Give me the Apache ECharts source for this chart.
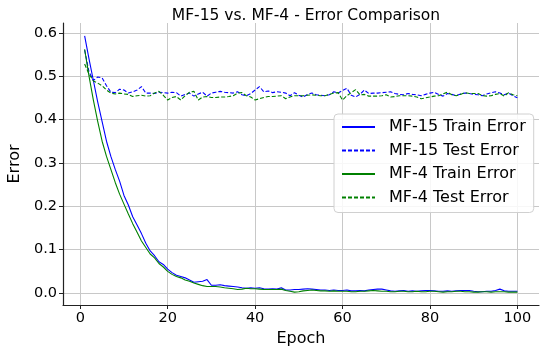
<!DOCTYPE html>
<html><head><meta charset="utf-8">
<script src="https://cdn.jsdelivr.net/npm/echarts@6/dist/echarts.min.js"></script>
<style>html,body{margin:0;padding:0;background:#fff}#c{width:547px;height:348px}</style>
</head><body><div id="c"></div>
<script>
const epochs = Array.from({length:100},(_,i)=>i+1);
const xTicks = [0,20,40,60,80,100];
const yTicks = [0,0.1,0.2,0.3,0.4,0.5,0.6];
const trainMF15 = [0.593,0.54,0.49,0.44,0.395,0.35,0.315,0.285,0.258,0.225,
0.203,0.176,0.157,0.137,0.115,0.097,0.086,0.072,0.066,0.055,
0.047,0.041,0.038,0.035,0.03,0.025,0.026,0.027,0.031,0.018,
0.018,0.019,0.017,0.016,0.015,0.014,0.012,0.011,0.012,0.011,
0.012,0.010,0.009,0.010,0.009,0.012,0.007,0.007,0.008,0.008,
0.009,0.010,0.009,0.008,0.007,0.007,0.006,0.007,0.006,0.006,
0.007,0.005,0.005,0.006,0.005,0.007,0.008,0.009,0.009,0.007,
0.005,0.004,0.005,0.006,0.004,0.005,0.004,0.005,0.006,0.006,
0.005,0.004,0.004,0.005,0.004,0.005,0.006,0.006,0.006,0.004,
0.003,0.003,0.004,0.004,0.006,0.009,0.005,0.004,0.004,0.004];
const testMF15 = [0.56,0.51,0.49,0.498,0.496,0.478,0.463,0.462,0.47,0.468,
0.461,0.464,0.468,0.476,0.461,0.461,0.46,0.463,0.462,0.461,
0.463,0.462,0.454,0.458,0.461,0.454,0.459,0.463,0.454,0.461,
0.463,0.465,0.463,0.462,0.461,0.464,0.457,0.455,0.46,0.468,
0.476,0.464,0.466,0.462,0.464,0.463,0.461,0.455,0.462,0.456,
0.452,0.458,0.461,0.457,0.456,0.455,0.457,0.464,0.461,0.467,
0.472,0.456,0.452,0.458,0.468,0.46,0.461,0.461,0.462,0.463,
0.464,0.46,0.458,0.457,0.46,0.458,0.457,0.455,0.458,0.461,
0.463,0.458,0.454,0.46,0.458,0.455,0.459,0.461,0.46,0.458,
0.457,0.455,0.459,0.462,0.464,0.461,0.457,0.461,0.455,0.45];
const trainMF4 = [0.562,0.50,0.445,0.395,0.35,0.315,0.285,0.255,0.228,0.205,
0.182,0.16,0.14,0.12,0.105,0.09,0.081,0.068,0.06,0.05,
0.043,0.038,0.035,0.03,0.027,0.023,0.02,0.017,0.015,0.015,
0.015,0.014,0.012,0.011,0.01,0.008,0.009,0.011,0.010,0.010,
0.009,0.008,0.008,0.008,0.008,0.009,0.006,0.004,0.002,0.003,
0.005,0.006,0.007,0.006,0.005,0.005,0.004,0.005,0.004,0.004,
0.004,0.003,0.003,0.004,0.004,0.005,0.006,0.005,0.004,0.004,
0.003,0.003,0.004,0.004,0.003,0.003,0.004,0.003,0.003,0.004,
0.004,0.003,0.002,0.003,0.003,0.004,0.004,0.003,0.003,0.002,
0.002,0.003,0.003,0.002,0.003,0.003,0.003,0.002,0.002,0.002];
const testMF4 = [0.528,0.505,0.489,0.484,0.478,0.468,0.461,0.459,0.461,0.459,
0.458,0.453,0.455,0.456,0.454,0.455,0.461,0.465,0.456,0.445,
0.451,0.453,0.445,0.455,0.463,0.465,0.445,0.452,0.453,0.451,
0.451,0.452,0.452,0.453,0.455,0.461,0.462,0.455,0.452,0.445,
0.448,0.451,0.453,0.453,0.454,0.455,0.448,0.452,0.455,0.455,
0.455,0.456,0.457,0.456,0.455,0.455,0.458,0.461,0.462,0.445,
0.455,0.462,0.469,0.457,0.458,0.454,0.454,0.454,0.455,0.457,
0.452,0.453,0.455,0.455,0.455,0.454,0.452,0.448,0.450,0.452,
0.454,0.455,0.459,0.463,0.457,0.455,0.458,0.462,0.46,0.46,
0.46,0.455,0.454,0.455,0.458,0.46,0.454,0.462,0.457,0.455];

const FONT = 'DejaVu Sans';
const pair = arr => epochs.map((e,i)=>[e,arr[i]]);
function mkSeries(name, arr, color, dashed){
  return {name, type:'line', data:pair(arr), symbol:'none', smooth:false, z:3,
    lineStyle:{color, width:1.1, type: dashed ? [4,2] : 'solid'}, itemStyle:{color}, animation:false};
}
const chart = echarts.init(document.getElementById('c'), null, {renderer:'canvas'});
chart.setOption({
  animation:false,
  title:{text:'MF-15 vs. MF-4 - Error Comparison', left:301, top:3, textAlign:'center',
    textStyle:{fontFamily:FONT, fontSize:15.5, fontWeight:'normal', color:'#000'}},
  grid:{show:false, left:63, right:8, top:23, bottom:43, containLabel:false, outerBoundsMode:'none'},
  xAxis:{type:'value', min:-3.95, max:104.95,
    name:'Epoch', nameLocation:'middle', nameGap:23,
    nameTextStyle:{fontFamily:FONT, fontSize:16, color:'#000'},
    axisLine:{show:true, onZero:false, lineStyle:{color:'#222', width:1.2}},
    axisTick:{show:true, length:4, customValues:xTicks, lineStyle:{color:'#222'}},
    axisLabel:{customValues:xTicks, fontFamily:FONT, fontSize:14.5, color:'#000', margin:6},
    splitLine:{show:false}, splitArea:{show:false}},
  yAxis:{type:'value', min:-0.0276, max:0.6226,
    name:'Error', nameLocation:'middle', nameGap:35,
    nameTextStyle:{fontFamily:FONT, fontSize:16, color:'#000'},
    axisLine:{show:true, onZero:false, lineStyle:{color:'#222', width:1.2}},
    axisTick:{show:true, length:4, customValues:yTicks, lineStyle:{color:'#222'}},
    axisLabel:{customValues:yTicks, fontFamily:FONT, fontSize:14.5, color:'#000', margin:6,
      formatter:v=>v.toFixed(1)},
    splitLine:{show:false}, splitArea:{show:false}},
  legend:{orient:'vertical', left:334, top:114, itemWidth:33, itemHeight:10, itemGap:5.5, z:20,
    padding:[4,8,6,7], backgroundColor:'rgba(255,255,255,0.85)', borderColor:'#d0d0d0',
    borderWidth:1, borderRadius:4, itemStyle:{opacity:0},
    textStyle:{fontFamily:FONT, fontSize:16, lineHeight:18, color:'#000', padding:[0,0,0,9]},
    data:['MF-15 Train Error','MF-15 Test Error','MF-4 Train Error','MF-4 Test Error']},
  series:[
    {type:'line', data:[], silent:true, z:0, markLine:{silent:true, z:0, symbol:'none', label:{show:false},
      lineStyle:{color:'#c8c8c8', width:1, type:'solid'}, animation:false,
      data: xTicks.map(v=>({xAxis:v})).concat(yTicks.map(v=>({yAxis:v})))}},
    mkSeries('MF-15 Train Error', trainMF15, '#0000ff', false),
    mkSeries('MF-15 Test Error', testMF15, '#0000ff', true),
    mkSeries('MF-4 Train Error', trainMF4, '#008000', false),
    mkSeries('MF-4 Test Error', testMF4, '#008000', true)
  ]
});
</script></body></html>
